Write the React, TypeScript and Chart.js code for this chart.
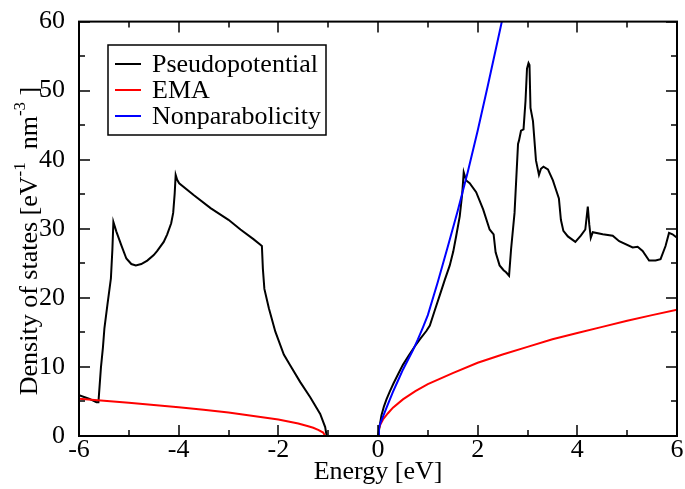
import React, { useEffect, useRef } from "react";
import { Chart, registerables } from "chart.js";

Chart.register(...registerables);

const FONT = '"Liberation Serif", "Times New Roman", serif';

// Pseudopotential DOS
const pseudoE = [
  -6, -5.8, -5.65, -5.61, -5.56, -5.52, -5.49, -5.43, -5.36, -5.33, -5.31, -5.25, -5.15, -5.05, -4.95, -4.86,
  -4.75, -4.63, -4.5, -4.43, -4.3, -4.23, -4.15, -4.11, -4.08, -4.06, -4.03, -3.99, -3.7, -3.36, -3.0, -2.76,
  -2.5, -2.36, -2.33, -2.31, -2.28, -2.19, -2.06, -1.89, -1.76, -1.56, -1.36, -1.16, -1.06, -1.03,
  0, 0.03, 0.07, 0.12, 0.17, 0.24, 0.31, 0.4, 0.5, 0.62, 0.74, 0.85, 0.97, 1.04, 1.14, 1.24, 1.34, 1.44,
  1.51, 1.57, 1.64, 1.69, 1.72, 1.77, 1.84, 1.97, 2.11, 2.24, 2.32, 2.36, 2.44, 2.52, 2.57, 2.63, 2.67,
  2.74, 2.81, 2.83, 2.87, 2.92, 2.96, 2.99, 3.02, 3.04, 3.06, 3.11, 3.17, 3.23, 3.27, 3.32, 3.41, 3.51,
  3.56, 3.63, 3.67, 3.72, 3.81, 3.96, 4.07, 4.16, 4.21, 4.24, 4.27, 4.31, 4.51, 4.71, 4.84, 5.11, 5.21,
  5.31, 5.44, 5.57, 5.67, 5.77, 5.84, 5.91, 6,
];
const pseudoDos = [
  5.9, 5.4, 4.9, 4.9, 9.9, 12.8, 15.6, 19, 22.8, 27, 31, 29.6, 27.6, 25.7, 24.9, 24.7,
  24.9, 25.4, 26.2, 26.8, 28.1, 29.2, 30.8, 32.3, 35.1, 37.8, 37.1, 36.6, 34.9, 33, 31.3, 29.9,
  28.5, 27.7, 27.5, 24.2, 21.3, 18.5, 15.1, 11.8, 10.2, 7.8, 5.6, 3.2, 1.3, 0,
  0, 1.3, 3.0, 4.3, 5.3, 6.5, 7.6, 8.9, 10.3, 11.7, 13.0, 14.1, 15.2, 16.0, 18.2, 20.4, 22.6, 24.7,
  26.7, 29, 31.8, 35.1, 38.2, 37.0, 36.6, 35.3, 32.8, 29.9, 29.2, 26.6, 24.7, 24.0, 23.7, 23.2, 27,
  32.3, 42.3, 42.8, 44.2, 44.4, 48.5, 53.2, 54.0, 53.7, 47.5, 45.6, 39.9, 37.8, 38.7, 39.0, 38.6, 37.0,
  35.9, 34.4, 31.3, 29.7, 28.9, 28.1, 29.0, 29.9, 33.2, 30.6, 28.7, 29.5, 29.2, 29.0, 28.2, 27.3, 27.4,
  26.8, 25.4, 25.4, 25.6, 27.5, 29.4, 29.2, 28.7,
];

// EMA DOS (null splits valence / conduction branches)
const emaE = [
  -6, -5.5, -5, -4.5, -4, -3.5, -3, -2.5, -2, -1.8, -1.6, -1.4, -1.3, -1.2, -1.1, -1.06,
  -0.5,
  0, 0.02, 0.05, 0.1, 0.2, 0.3, 0.5, 0.75, 1, 1.5, 2, 2.5, 3, 3.5, 4, 4.5, 5, 5.5, 6,
];
const emaDos = [
  5.4, 5.1, 4.8, 4.5, 4.15, 3.8, 3.4, 2.9, 2.4, 2.1, 1.8, 1.4, 1.2, 0.9, 0.5, 0,
  null,
  0, 1.1, 1.7, 2.4, 3.3, 4.1, 5.3, 6.5, 7.5, 9.1, 10.6, 11.8, 12.9, 14.0, 14.9, 15.8, 16.7, 17.5, 18.3,
];

// Nonparabolicity DOS
const nonparE = [0, 0.02, 0.05, 0.1, 0.2, 0.3, 0.4, 0.5, 0.6, 0.7, 0.8, 0.9, 1.0, 1.2, 1.4, 1.6, 1.8, 2.0, 2.2, 2.4, 2.5];
const nonparDos = [0, 1.2, 1.9, 2.8, 4.6, 6.4, 8.0, 9.6, 11.0, 12.4, 14.0, 15.7, 17.5, 22.3, 27.4, 32.6, 38.2, 44.2, 50.6, 57.2, 60.5];

const seriesLabels = ["Pseudopotential", "EMA", "Nonparabolicity"];
const seriesColors = ["#000000", "#ff0000", "#0000ff"];

const xTitle = "Energy [eV]";
const yTitleParts: { t: string; sup?: boolean }[] = [
  { t: "Density of states [eV" },
  { t: "-1", sup: true },
  { t: "  nm" },
  { t: "-3", sup: true },
  { t: " ]" },
];

const toPoints = (xs: number[], ys: (number | null)[]) => xs.map((x, i) => ({ x, y: ys[i] }));

const framePlugin = {
  id: "frameTicks",
  afterDatasetsDraw(chart: any) {
    const { ctx, chartArea: a, scales } = chart;
    const xs = scales.x;
    const ys = scales.y;
    ctx.save();
    ctx.strokeStyle = "#000";
    ctx.lineWidth = 2;
    ctx.strokeRect(a.left, a.top, a.right - a.left, a.bottom - a.top);
    ctx.lineWidth = 1.5;
    ctx.beginPath();
    for (let v = -6; v <= 6; v += 1) {
      const len = v % 2 === 0 ? 11 : 6;
      const px = Math.round(xs.getPixelForValue(v));
      ctx.moveTo(px, a.bottom);
      ctx.lineTo(px, a.bottom - len);
      ctx.moveTo(px, a.top);
      ctx.lineTo(px, a.top + len);
    }
    for (let v = 0; v <= 60; v += 5) {
      const len = v % 10 === 0 ? 11 : 6;
      const py = Math.round(ys.getPixelForValue(v));
      ctx.moveTo(a.left, py);
      ctx.lineTo(a.left + len, py);
      ctx.moveTo(a.right, py);
      ctx.lineTo(a.right - len, py);
    }
    ctx.stroke();
    ctx.restore();
  },
  afterDraw(chart: any) {
    const { ctx, chartArea: a } = chart;
    ctx.save();
    ctx.fillStyle = "#000";
    // x title
    ctx.font = `26px ${FONT}`;
    ctx.textAlign = "center";
    ctx.textBaseline = "alphabetic";
    ctx.fillText(xTitle, (a.left + a.right) / 2, 479);
    // y title with superscripts
    const mainFont = `26px ${FONT}`;
    const supFont = `17px ${FONT}`;
    let total = 0;
    for (const p of yTitleParts) {
      ctx.font = p.sup ? supFont : mainFont;
      total += ctx.measureText(p.t).width;
    }
    ctx.translate(37, 241);
    ctx.rotate(-Math.PI / 2);
    ctx.textAlign = "left";
    let x = -total / 2;
    for (const p of yTitleParts) {
      ctx.font = p.sup ? supFont : mainFont;
      ctx.fillText(p.t, x, p.sup ? -12 : 0);
      x += ctx.measureText(p.t).width;
    }
    ctx.restore();

    // legend
    ctx.save();
    ctx.strokeStyle = "#000";
    ctx.lineWidth = 1.5;
    ctx.strokeRect(108, 45, 218, 90);
    ctx.font = `26px ${FONT}`;
    ctx.textAlign = "left";
    ctx.textBaseline = "alphabetic";
    chart.data.datasets.forEach((ds: any, i: number) => {
      const ly = 64 + i * 26;
      ctx.strokeStyle = ds.borderColor;
      ctx.lineWidth = 2;
      ctx.beginPath();
      ctx.moveTo(115, ly);
      ctx.lineTo(141, ly);
      ctx.stroke();
      ctx.fillStyle = "#000";
      ctx.fillText(ds.label, 152, ly + 8);
    });
    ctx.restore();
  },
};

export default function App() {
  const ref = useRef<HTMLCanvasElement>(null);
  useEffect(() => {
    document.body.style.margin = "0";
    const canvas = ref.current!;
    const chart = new Chart(canvas, {
      type: "line",
      data: {
        datasets: [
          {
            label: seriesLabels[0],
            data: toPoints(pseudoE, pseudoDos),
            borderColor: seriesColors[0],
            borderWidth: 2,
            pointRadius: 0,
            tension: 0,
            order: 2,
          },
          {
            label: seriesLabels[1],
            data: toPoints(emaE, emaDos),
            borderColor: seriesColors[1],
            borderWidth: 2,
            pointRadius: 0,
            tension: 0,
            spanGaps: false,
            order: 1,
          },
          {
            label: seriesLabels[2],
            data: toPoints(nonparE, nonparDos),
            borderColor: seriesColors[2],
            borderWidth: 2,
            pointRadius: 0,
            tension: 0,
            order: 0,
          },
        ],
      },
      options: {
        responsive: false,
        animation: false,
        devicePixelRatio: 1,
        layout: { padding: { left: 0, top: 16, right: 8, bottom: 0 } },
        plugins: { legend: { display: false }, tooltip: { enabled: false } },
        scales: {
          x: {
            type: "linear",
            min: -6,
            max: 6,
            ticks: {
              stepSize: 2,
              color: "#000",
              font: { family: FONT, size: 26, lineHeight: 0.5 },
              padding: 0,
              maxRotation: 0,
            },
            grid: { display: false },
            border: { display: false },
            afterFit: (s: any) => {
              s.height = 53;
            },
          },
          y: {
            type: "linear",
            min: 0,
            max: 60,
            ticks: { stepSize: 10, color: "#000", font: { family: FONT, size: 26 }, padding: 6 },
            grid: { display: false },
            border: { display: false },
            afterFit: (s: any) => {
              s.width = 79;
            },
          },
        },
      },
      plugins: [framePlugin],
    });
    return () => chart.destroy();
  }, []);
  return (
    <div style={{ position: "absolute", left: 0, top: 0, width: 685, height: 489, background: "#fff" }}>
      <canvas ref={ref} width={685} height={489} />
    </div>
  );
}
